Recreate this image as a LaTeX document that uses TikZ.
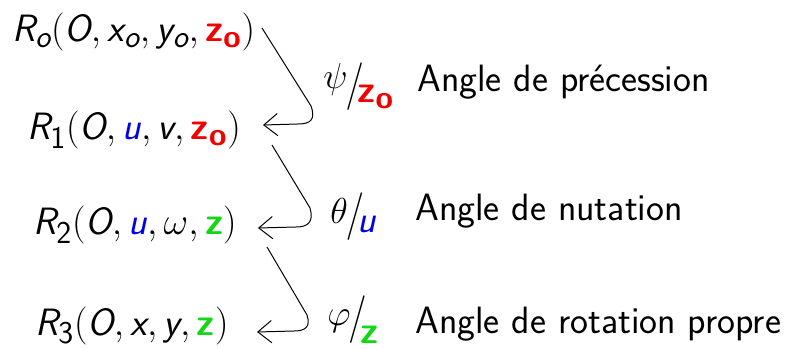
\documentclass[tikz,border=0pt]{standalone}
\usetikzlibrary{arrows.meta}
\DeclareMathAlphabet{\msl}{TU}{lmss}{m}{sl}
\DeclareMathAlphabet{\mbs}{TU}{lmss}{bx}{n}
\DeclareMathAlphabet{\msf}{TU}{lmss}{m}{n}
\definecolor{zred}{RGB}{240,0,0}
\definecolor{ublue}{RGB}{0,0,235}
\definecolor{zgreen}{RGB}{20,215,20}
% #1 greek, #2 raise of greek, #3 raise of slash, #4 lower part
\newcommand\angfrac[4]{\raisebox{#2}{\scalebox{0.95}{$#1$}}\kern-0.06em\raisebox{#3}{\scalebox{1}[1.25]{$/$}}\kern-0.17em#4}
\begin{document}
\begin{tikzpicture}[x=0.6534pt,y=-0.6534pt,
  every node/.style={inner sep=0pt,anchor=base west,font=\fontsize{24.88}{30}\selectfont\sffamily},
  conn/.style={line width=0.65pt,-{Straight Barb[length=9pt,width=14.5pt,line width=0.65pt]}}]
\useasboundingbox (0,0) rectangle (786,349);
\node (r0) at (12,42) {$\msl{R}_{\msl{o}}(\msl{O},\msl{x}_{\msl{o}},\msl{y}_{\msl{o}},\textcolor{zred}{\mbs{z}_{\mbs{o}}})$};
\node (r1) at (27,140) {$\msl{R}_{\msf{1}}(\msl{O},\textcolor{ublue}{\msl{u}},\msl{v},\textcolor{zred}{\mbs{z}_{\mbs{o}}})$};
\node (r2) at (33,235) {$\msl{R}_{\msf{2}}(\msl{O},\textcolor{ublue}{\msl{u}},\omega,\textcolor{zgreen}{\mbs{z}})$};
\node (r3) at (35,335.5) {$\msl{R}_{\msf{3}}(\msl{O},\msl{x},\msl{y},\textcolor{zgreen}{\mbs{z}})$};
\node (l1) at (323,103) {\angfrac{\psi}{0.39em}{0.13em}{\textcolor{zred}{$\mbs{z}_{\mbs{o}}$}}};
\node (l2) at (330,233) {\angfrac{\theta}{0.26em}{0.13em}{\textcolor{ublue}{$\msl{u}$}}};
\node (l3) at (327,343) {\angfrac{\varphi}{0.45em}{0.3em}{\textcolor{zgreen}{$\mbs{z}$}}};
\node (t1) at (417,92) {Angle de précession};
\node (t2) at (415,221) {Angle de nutation};
\node (t3) at (415,333) {Angle de rotation propre};
\coordinate (a1) at (262,28); \coordinate (b1) at (263,125);
\coordinate (a2) at (272,145); \coordinate (b2) at (258,228);
\coordinate (a3) at (267,247); \coordinate (b3) at (257,332);
\draw[conn] (a1) -- (311,106) .. controls (316,120) and (310,124) .. (298,124) -- (b1);
\draw[conn] (a2) -- (310,208) .. controls (314,222) and (308,227) .. (296,227) -- (b2);
\draw[conn] (a3) -- (307,315) .. controls (311,327) and (305,331) .. (294,331) -- (b3);
\end{tikzpicture}
\end{document}
